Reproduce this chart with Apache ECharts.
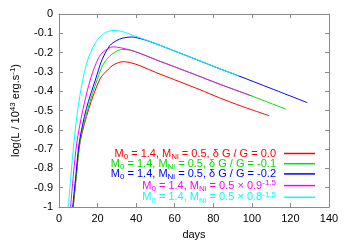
<!DOCTYPE html>
<html><head><meta charset="utf-8">
<script src="https://cdn.jsdelivr.net/npm/echarts@6/dist/echarts.min.js"></script>
<style>html,body{margin:0;padding:0;background:#fff}#c{width:349px;height:245px}</style>
</head><body><div id="c"></div>
<script>
// ---- data ----
var redDays = [7.4, 9.1, 11, 15.5, 21.2, 24.7, 28.5, 33.3, 37, 42, 50, 60, 73, 83.4, 95, 109];
var redLogL = [-1.0, -0.83, -0.66, -0.49, -0.337, -0.295, -0.262, -0.247, -0.252, -0.268, -0.302, -0.341, -0.392, -0.435, -0.479, -0.527];

var greenDays = [7.3, 9, 10.9, 15, 19.9, 23, 27, 32.5, 37, 42, 50, 60, 70, 83.4, 100, 117.6];
var greenLogL = [-1.0, -0.83, -0.66, -0.49, -0.337, -0.26, -0.212, -0.184, -0.187, -0.204, -0.236, -0.274, -0.312, -0.364, -0.425, -0.493];

var blueDays = [7.1, 8.8, 10.6, 14.2, 19, 22.4, 26.4, 30, 33, 37.6, 42, 47, 60, 70, 83.4, 93, 110, 128.7];
var blueLogL = [-1.0, -0.83, -0.66, -0.49, -0.337, -0.235, -0.163, -0.137, -0.125, -0.119, -0.127, -0.142, -0.192, -0.231, -0.284, -0.32, -0.386, -0.459];

var magentaDays = [6.0, 7.5, 9.2, 12.3, 16.5, 20.5, 23, 28, 32, 37, 42, 50, 60, 70, 83.4, 100];
var magentaLogL = [-1.0, -0.83, -0.67, -0.5, -0.33, -0.228, -0.196, -0.17, -0.175, -0.187, -0.204, -0.236, -0.274, -0.312, -0.364, -0.425];

var cyanDays = [4.8, 6, 7.8, 9.8, 12.4, 15, 18, 21, 24, 28, 32, 37, 47, 60, 70, 83.4, 93];
var cyanLogL = [-1.0, -0.86, -0.66, -0.49, -0.337, -0.235, -0.165, -0.122, -0.097, -0.085, -0.089, -0.105, -0.142, -0.192, -0.231, -0.284, -0.32];

var seriesNames = ['dG0', 'dG1', 'dG2', 'ni09', 'ni08'];
var seriesColors = ['#ff0000', '#00e000', '#0000ff', '#ff00ff', '#00ffff'];
var legendLabels = [
  ['M', '0', ' = 1.4, M', 'Ni', ' = 0.5, δ G / G = 0.0', ''],
  ['M', '0', ' = 1.4, M', 'Ni', ' = 0.5, δ G / G = -0.1', ''],
  ['M', '0', ' = 1.4, M', 'Ni', ' = 0.5, δ G / G = -0.2', ''],
  ['M', '0', ' = 1.4, M', 'Ni', ' = 0.5 × 0.9', '-1.5'],
  ['M', '0', ' = 1.4, M', 'Ni', ' = 0.5 × 0.8', '-1.5']
];
var xTicks = {min: 0, max: 140, interval: 20};
var yTicks = {min: -1, max: 0, interval: 0.1};

var allDays = [redDays, greenDays, blueDays, magentaDays, cyanDays];
var allVals = [redLogL, greenLogL, blueLogL, magentaLogL, cyanLogL];

function pairs(xs, ys) { return xs.map(function (x, i) { return [x, ys[i]]; }); }

var FONT = 'Liberation Sans';
var frame = '#8a8a8a';

var rich = {};
seriesColors.forEach(function (c, i) {
  rich['t' + i] = {fontSize: 11, lineHeight: 14, color: c, fontFamily: FONT, verticalAlign: 'middle'};
  rich['s' + i] = {fontSize: 8, lineHeight: 8, color: c, fontFamily: FONT, verticalAlign: 'bottom'};
  rich['p' + i] = {fontSize: 8, lineHeight: 8, color: c, fontFamily: FONT, verticalAlign: 'top'};
});
var labelMap = {};
seriesNames.forEach(function (n, i) {
  var l = legendLabels[i];
  var s = '{t' + i + '|' + l[0] + '}{s' + i + '|' + l[1] + '}{t' + i + '|' + l[2] + '}{s' + i + '|' + l[3] + '}{t' + i + '|' + l[4] + '}';
  if (l[5]) s += '{p' + i + '|' + l[5] + '}';
  labelMap[n] = s;
});

function yFmt(v) { var r = Number(v.toFixed(1)); return String(r === 0 ? 0 : r); }

var baseAxis = {
  axisLine: {show: true, onZero: false, lineStyle: {color: frame, width: 1}},
  axisTick: {show: true, inside: true, length: 4, lineStyle: {color: frame}},
  splitLine: {show: false}
};

var chart = echarts.init(document.getElementById('c'), null, {renderer: 'canvas'});
chart.setOption({
  animation: false,
  backgroundColor: '#fff',
  color: seriesColors,
  grid: {left: 59, right: 20, top: 14, bottom: 35, containLabel: false},
  xAxis: [
    Object.assign({}, baseAxis, {
      type: 'value', min: xTicks.min, max: xTicks.max, interval: xTicks.interval, position: 'bottom',
      name: 'days', nameLocation: 'middle', nameGap: 22,
      nameTextStyle: {fontSize: 11, color: '#000', fontFamily: FONT},
      axisLabel: {fontSize: 11, color: '#000', fontFamily: FONT, margin: 6}
    }),
    Object.assign({}, baseAxis, {
      type: 'value', min: xTicks.min, max: xTicks.max, interval: xTicks.interval, position: 'top',
      axisLabel: {show: false}
    })
  ],
  yAxis: [
    Object.assign({}, baseAxis, {
      type: 'value', min: yTicks.min, max: yTicks.max, interval: yTicks.interval, position: 'left',
      name: 'log(L / 10{sup|43} erg.s{sup|-1})', nameLocation: 'middle', nameGap: 36, nameRotate: 90,
      nameTextStyle: {fontSize: 11, color: '#000', fontFamily: FONT, lineHeight: 14,
        rich: {sup: {fontSize: 8, lineHeight: 8, verticalAlign: 'top', color: '#000', fontFamily: FONT}}},
      axisLabel: {fontSize: 11, color: '#000', fontFamily: FONT, margin: 6, formatter: yFmt}
    }),
    Object.assign({}, baseAxis, {
      type: 'value', min: yTicks.min, max: yTicks.max, interval: yTicks.interval, position: 'right',
      axisLabel: {show: false}
    })
  ],
  legend: {
    orient: 'vertical', right: 34, top: 148, padding: 0, itemGap: -2.3,
    align: 'right', itemWidth: 31, itemHeight: 1.5, icon: 'rect',
    itemStyle: {borderWidth: 0},
    data: seriesNames.map(function (n, i) {
      return {name: n, itemStyle: {color: seriesColors[i], borderColor: seriesColors[i], borderWidth: 0, opacity: 1}};
    }),
    formatter: function (n) { return labelMap[n]; },
    textStyle: {fontSize: 11, fontFamily: FONT, rich: rich, padding: [0, 3, 0, 0]}
  },
  series: seriesNames.map(function (n, i) {
    return {
      name: n, type: 'line', xAxisIndex: 0, yAxisIndex: 0,
      color: seriesColors[i],
      data: pairs(allDays[i], allVals[i]),
      symbol: 'none', showSymbol: false,
      smooth: 0.3, clip: true,
      lineStyle: {color: seriesColors[i], width: 1},
      itemStyle: {color: seriesColors[i]}
    };
  })
});
</script></body></html>
